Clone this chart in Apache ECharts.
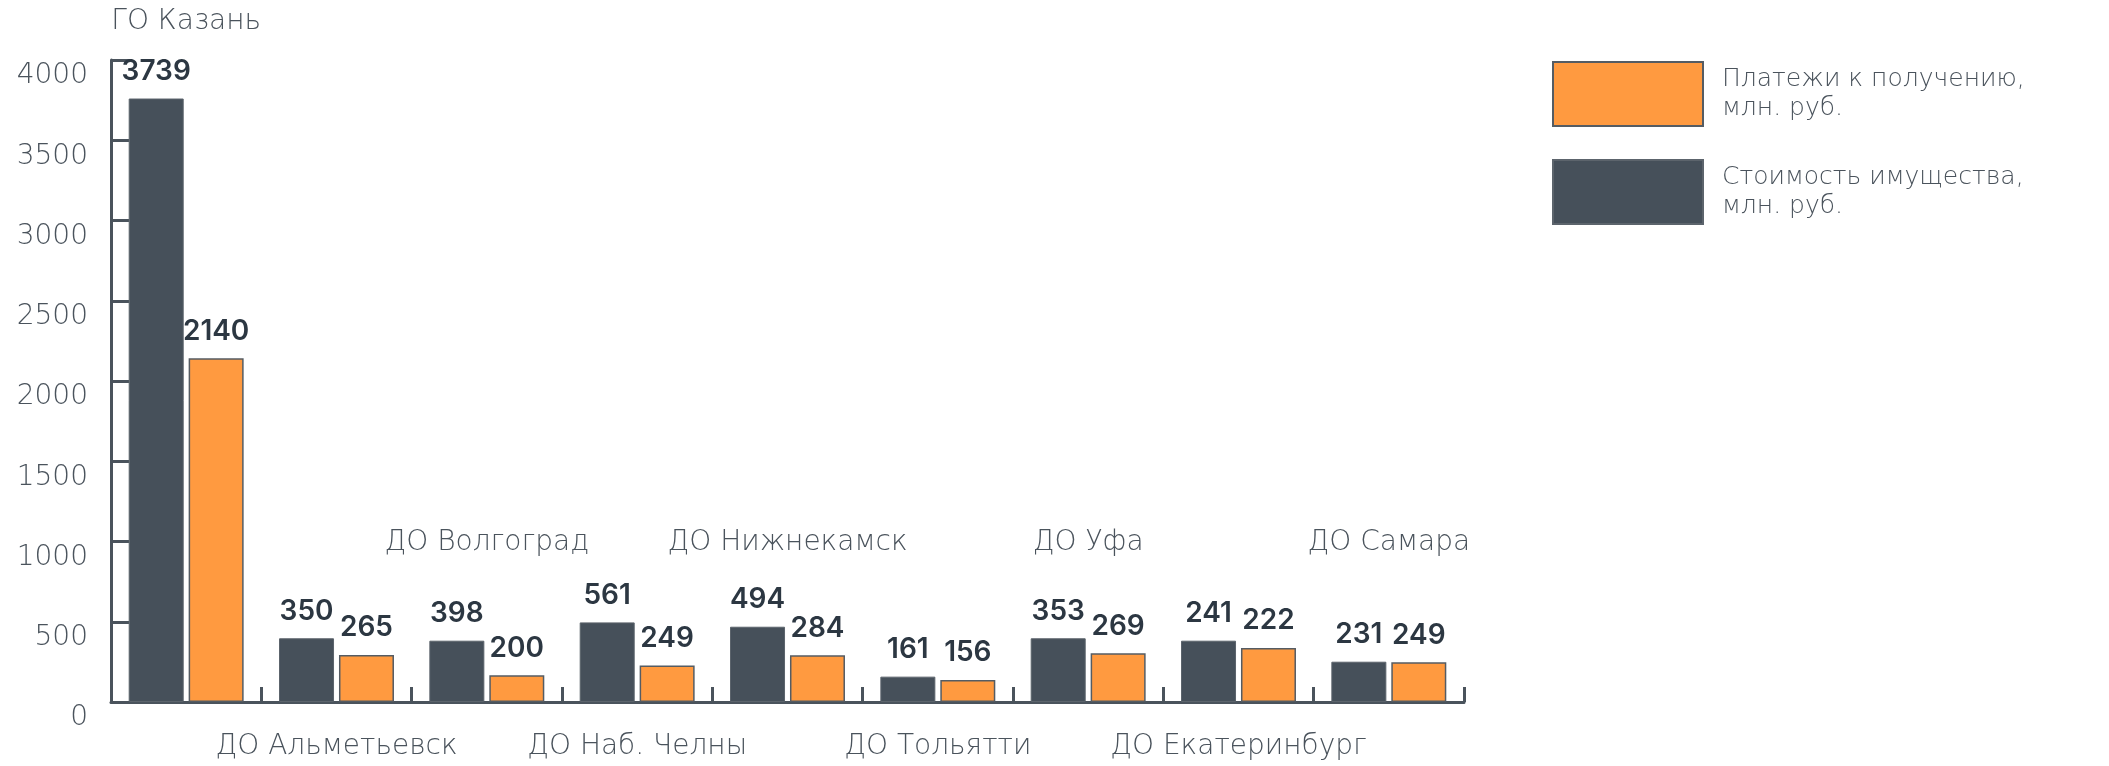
<!DOCTYPE html>
<html>
<head>
<meta charset="utf-8">
<script src="https://cdn.jsdelivr.net/npm/echarts@6/dist/echarts.min.js"></script>
<style>
  html, body { margin: 0; padding: 0; background: #fff; }
  #main { width: 2109px; height: 766px; }
</style>
</head>
<body>
<div id="main"></div>
<script>
// категории (чётные подписи сверху, нечётные снизу)
var categories = ['ГО Казань', 'ДО Альметьевск', 'ДО Волгоград', 'ДО Наб. Челны', 'ДО Нижнекамск',
  'ДО Тольятти', 'ДО Уфа', 'ДО Екатеринбург', 'ДО Самара'];

// высоты столбцов, как они нарисованы на картинке
var assetBars = [3760, 397, 382, 496, 469, 158, 397, 382, 251];
var paymentBars = [2141, 293, 166, 228, 291, 137, 303, 336, 247];

// подписанные значения
var assetLabels = [3739, 350, 398, 561, 494, 161, 353, 241, 231];
var paymentLabels = [2140, 265, 200, 249, 284, 156, 269, 222, 249];

var yTicks = [0, 500, 1000, 1500, 2000, 2500, 3000, 3500, 4000];

var assetName = 'Стоимость имущества,\nмлн. руб.';
var paymentName = 'Платежи к получению,\nмлн. руб.';

var LIGHT = '"DejaVu Sans", sans-serif';
var BOLD = 'Inter, "Noto Sans", sans-serif';
var axisColor = '#4a535c';
var textColor = '#4a535c';

var myChart = echarts.init(document.getElementById('main'));

function catAxis(extra) {
  return Object.assign({
    type: 'category',
    data: categories,
    axisLine: { show: false },
    axisTick: { show: false },
    splitLine: { show: false }
  }, extra);
}

var catLabel = { interval: 0, fontFamily: LIGHT, fontSize: 28, fontWeight: 200, color: textColor };

myChart.setOption({
  animation: false,
  grid: { left: 111, top: 60, width: 1353, bottom: 64, containLabel: false },
  legend: {
    orient: 'vertical',
    left: 1552,
    top: 61,
    padding: 0,
    itemWidth: 150,
    itemHeight: 64,
    itemGap: 32,
    icon: 'rect',
    data: [paymentName, assetName],
    textStyle: { fontFamily: LIGHT, fontSize: 25, fontWeight: 200, color: textColor, lineHeight: 29, padding: [0, 0, 0, 14] }
  },
  xAxis: [
    catAxis({
      position: 'bottom',
      axisLine: { show: true, lineStyle: { color: axisColor, width: 3 } },
      axisTick: { show: true, inside: true, length: 15, lineStyle: { color: axisColor, width: 3 } },
      axisLabel: Object.assign({}, catLabel, {
        margin: 31,
        formatter: function (v, i) { return i % 2 === 1 ? v : ''; }
      })
    }),
    catAxis({
      position: 'bottom',
      offset: -159,
      axisLabel: Object.assign({}, catLabel, {
        margin: 0, verticalAlign: 'middle',
        formatter: function (v, i) { return (i % 2 === 0 && i > 0) ? v : ''; }
      })
    }),
    catAxis({
      position: 'top',
      axisLabel: Object.assign({}, catLabel, {
        margin: 38, verticalAlign: 'middle',
        formatter: function (v, i) { return i === 0 ? v : ''; }
      })
    })
  ],
  yAxis: {
    type: 'value',
    min: yTicks[0],
    max: yTicks[yTicks.length - 1],
    interval: 500,
    axisLine: { show: true, lineStyle: { color: axisColor, width: 3 } },
    axisTick: { show: true, inside: true, length: 18, lineStyle: { color: axisColor, width: 3 } },
    splitLine: { show: false },
    axisLabel: {
      margin: 23, fontFamily: LIGHT, fontSize: 28, fontWeight: 200, color: textColor,
      verticalAlign: 'top', padding: [2, 0, 0, 0],
      formatter: function (v) { return String(v); }
    }
  },
  series: [
    {
      name: assetName,
      type: 'bar',
      xAxisIndex: 0,
      data: assetBars,
      barWidth: 55,
      barGap: '9%',
      itemStyle: { color: '#46505a', borderColor: '#5c646c', borderWidth: 1 },
      label: {
        show: true, position: 'top', distance: 13,
        fontFamily: BOLD, fontSize: 28, fontWeight: 600, color: '#2c3742',
        formatter: function (p) { return assetLabels[p.dataIndex]; }
      }
    },
    {
      name: paymentName,
      type: 'bar',
      xAxisIndex: 0,
      data: paymentBars,
      barWidth: 55,
      itemStyle: { color: '#ff9a40', borderColor: '#555c63', borderWidth: 1.5 },
      label: {
        show: true, position: 'top', distance: 13,
        fontFamily: BOLD, fontSize: 28, fontWeight: 600, color: '#2c3742',
        formatter: function (p) { return paymentLabels[p.dataIndex]; }
      }
    }
  ]
});
</script>
</body>
</html>
